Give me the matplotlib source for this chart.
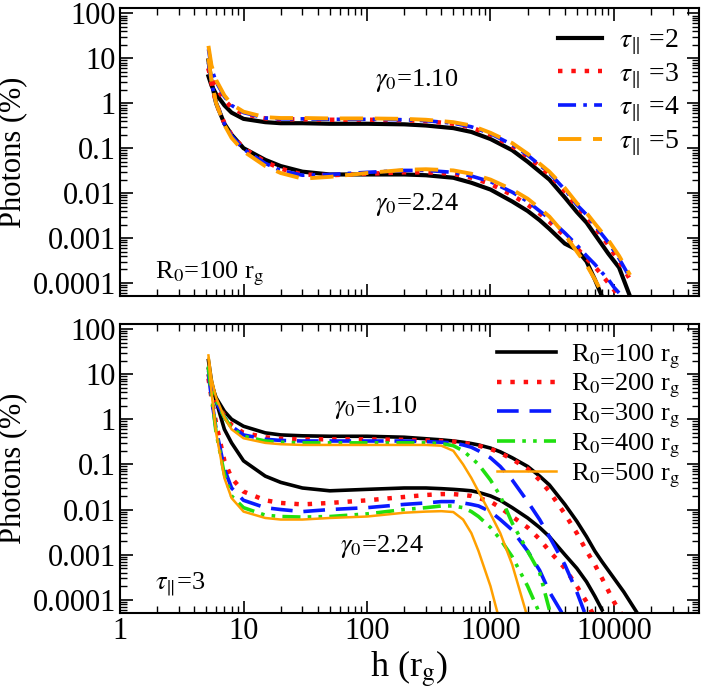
import matplotlib
matplotlib.use("Agg")
import matplotlib.pyplot as plt
from matplotlib.ticker import LogLocator, NullFormatter

plt.rcParams['font.family'] = ['Liberation Serif', 'DejaVu Serif']
plt.rcParams['mathtext.fontset'] = 'stix'

# ---------------- data ----------------
h_top_a = [5.2, 5.5, 6, 7, 8, 10, 15, 20, 30, 50, 100, 200, 300, 500, 700, 1000, 1500, 2000, 3000, 4000, 5000, 6000, 7000, 9000, 11000, 13500]
top_g110 = {
    2: [4.0, 2.5, 1.6, 0.9, 0.62, 0.45, 0.38, 0.36, 0.36, 0.35, 0.35, 0.34, 0.32, 0.28, 0.23, 0.16, 0.09, 0.05, 0.02, 0.008, 0.0038, 0.0022, 0.0012, 0.00045, 0.00022, 0.00005],
    3: [6.0, 3.5, 2.2, 1.2, 0.8, 0.58, 0.46, 0.44, 0.44, 0.43, 0.43, 0.42, 0.40, 0.35, 0.29, 0.20, 0.11, 0.065, 0.026, 0.011, 0.005, 0.003, 0.0017, 0.0007, 0.0003, 0.00012],
    4: [16.0, 6.0, 3.0, 1.4, 0.9, 0.62, 0.47, 0.45, 0.45, 0.44, 0.44, 0.43, 0.41, 0.36, 0.30, 0.21, 0.12, 0.07, 0.028, 0.012, 0.0055, 0.0033, 0.0019, 0.0008, 0.00035, 0.00013],
    5: [19.0, 7.0, 3.3, 1.5, 0.95, 0.65, 0.49, 0.47, 0.47, 0.46, 0.46, 0.45, 0.43, 0.38, 0.32, 0.22, 0.13, 0.075, 0.03, 0.013, 0.006, 0.0036, 0.0021, 0.0009, 0.0004, 0.00015],
}
h_top_b = [5.2, 5.5, 6, 7, 8, 10, 15, 20, 30, 50, 100, 200, 300, 500, 700, 1000, 1500, 2000, 2500, 3000, 4000, 5000, 6000, 7000, 8000, 9000, 10000, 11000]
top_g224 = {
    2: [9.0, 3.0, 1.0, 0.35, 0.2, 0.1, 0.055, 0.04, 0.03, 0.026, 0.026, 0.026, 0.025, 0.022, 0.017, 0.012, 0.0065, 0.004, 0.0025, 0.0016, 0.00075, 0.00055, 0.0003, 0.00012, 0.00005, 0.00003, 0.00002, 0.00001],
    3: [6.0, 2.8, 1.0, 0.36, 0.2, 0.1, 0.05, 0.035, 0.026, 0.025, 0.027, 0.029, 0.029, 0.027, 0.022, 0.016, 0.009, 0.0055, 0.0035, 0.0023, 0.0011, 0.0006, 0.00035, 0.00023, 0.00015, 0.0001, 0.00007, 0.00005],
    4: [8.0, 3.0, 1.0, 0.35, 0.19, 0.095, 0.046, 0.032, 0.025, 0.026, 0.029, 0.032, 0.032, 0.029, 0.024, 0.018, 0.0105, 0.0065, 0.004, 0.0027, 0.0013, 0.0007, 0.0004, 0.00026, 0.00017, 0.00012, 0.00008, 0.00006],
    5: [10.0, 3.2, 1.0, 0.33, 0.17, 0.085, 0.04, 0.028, 0.021, 0.023, 0.028, 0.033, 0.034, 0.032, 0.027, 0.02, 0.012, 0.0075, 0.0046, 0.003, 0.0012, 0.0005, 0.00025, 0.00012, 0.00006, 0.00003, 0.00002, 0.00001],
}
top_tau_labels = [r'$\tau_{\|}$ =2', r'$\tau_{\|}$ =3', r'$\tau_{\|}$ =4', r'$\tau_{\|}$ =5']

h_bot = [5.2, 5.5, 6, 7, 8, 10, 15, 20, 30, 50, 100, 200, 300, 400, 500, 600, 700, 800, 1000, 1200, 1500, 2000, 2500, 3000, 4000, 5000, 6000, 7000, 8000, 10000, 12000, 15500]
bot_g110 = {
    100: [13.0, 6.0, 3.0, 1.5, 1.0, 0.7, 0.5, 0.45, 0.43, 0.42, 0.42, 0.40, 0.37, 0.35, 0.33, 0.31, 0.29, 0.27, 0.23, 0.19, 0.14, 0.09, 0.055, 0.035, 0.013, 0.0055, 0.0025, 0.0012, 0.0007, 0.0003, 0.00015, 0.00005],
    200: [10.0, 5.0, 2.5, 1.2, 0.75, 0.5, 0.4, 0.37, 0.36, 0.36, 0.36, 0.35, 0.34, 0.33, 0.32, 0.30, 0.28, 0.26, 0.22, 0.18, 0.13, 0.08, 0.045, 0.025, 0.008, 0.003, 0.0012, 0.0006, 0.0003, 0.00009, 0.00004, 0.00001],
    300: [12.0, 5.0, 2.4, 1.1, 0.7, 0.45, 0.36, 0.34, 0.33, 0.33, 0.33, 0.33, 0.32, 0.31, 0.30, 0.27, 0.24, 0.2, 0.14, 0.09, 0.045, 0.015, 0.006, 0.0025, 0.0006, 0.00015, 0.00004, 0.00001, None, None, None, None],
    400: [15.0, 6.0, 2.6, 1.1, 0.65, 0.42, 0.33, 0.31, 0.30, 0.30, 0.30, 0.30, 0.30, 0.29, 0.26, 0.2, 0.14, 0.1, 0.045, 0.02, 0.005, 0.0012, 0.0004, 0.00006, None, None, None, None, None, None, None, None],
    500: [26.0, 8.0, 3.0, 1.1, 0.6, 0.38, 0.30, 0.28, 0.27, 0.27, 0.27, 0.27, 0.27, 0.26, 0.2, 0.1, 0.05, 0.025, 0.008, 0.003, 0.0006, 0.00004, None, None, None, None, None, None, None, None, None, None],
}
bot_g224 = {
    100: [20.0, 7.0, 2.5, 0.6, 0.3, 0.12, 0.055, 0.04, 0.03, 0.026, 0.028, 0.03, 0.03, 0.029, 0.028, 0.027, 0.026, 0.024, 0.02, 0.016, 0.011, 0.0065, 0.004, 0.0025, 0.001, 0.0005, 0.00025, 0.00012, 0.00006, None, None, None],
    200: [8.0, 3.0, 0.8, 0.12, 0.05, 0.025, 0.016, 0.014, 0.013, 0.014, 0.016, 0.019, 0.021, 0.022, 0.022, 0.021, 0.02, 0.018, 0.015, 0.011, 0.007, 0.004, 0.0022, 0.0012, 0.0005, 0.0002, 0.00009, 0.00004, None, None, None, None],
    300: [10.0, 3.0, 0.6, 0.08, 0.03, 0.016, 0.011, 0.01, 0.009, 0.01, 0.011, 0.013, 0.014, 0.015, 0.015, 0.014, 0.013, 0.012, 0.009, 0.006, 0.0035, 0.0012, 0.00045, 0.00015, 0.00004, None, None, None, None, None, None, None],
    400: [14.0, 3.5, 0.5, 0.06, 0.02, 0.011, 0.0075, 0.007, 0.0068, 0.007, 0.008, 0.01, 0.011, 0.012, 0.012, 0.011, 0.009, 0.007, 0.004, 0.0022, 0.0009, 0.0002, 0.00005, None, None, None, None, None, None, None, None, None],
    500: [22.0, 4.0, 0.5, 0.05, 0.018, 0.009, 0.0065, 0.006, 0.006, 0.0065, 0.007, 0.0085, 0.009, 0.0092, 0.0088, 0.006, 0.003, 0.0012, 0.0002, 0.00003, None, None, None, None, None, None, None, None, None, None, None, None],
}
bot_labels = [r'R$_0$=100 r$_\mathrm{g}$', r'R$_0$=200 r$_\mathrm{g}$', r'R$_0$=300 r$_\mathrm{g}$',
              r'R$_0$=400 r$_\mathrm{g}$', r'R$_0$=500 r$_\mathrm{g}$']

top_styles = [dict(color='black', ls='-', lw=3.0),
              dict(color='#ff1010', ls=(0, (1, 2)), lw=3.2),
              dict(color='#0a1aff', ls=(0, (5, 2, 1, 2)), lw=2.6),
              dict(color='#ffa000', ls=(0, (6, 3)), lw=2.8)]
bot_styles = [dict(color='black', ls='-', lw=2.6),
              dict(color='#ff1010', ls=(0, (1, 2)), lw=3.2),
              dict(color='#0a1aff', ls=(0, (6, 3)), lw=2.6),
              dict(color='#20e010', ls=(0, (5, 2, 1, 2, 1, 2)), lw=2.6),
              dict(color='#ffa000', ls='-', lw=1.8)]

def clean(h, v):
    pts = [(a, b) for a, b in zip(h, v) if b is not None]
    return [p[0] for p in pts], [p[1] for p in pts]

fig = plt.figure(figsize=(7.02, 6.95), dpi=100)
ax1 = fig.add_axes([0.171, 0.574, 0.825, 0.414])
ax2 = fig.add_axes([0.171, 0.118, 0.825, 0.416])

for i, tau in enumerate([2, 3, 4, 5]):
    x, y = clean(h_top_a, top_g110[tau])
    ax1.plot(x, y, label=top_tau_labels[i], **top_styles[i])
    x, y = clean(h_top_b, top_g224[tau])
    ax1.plot(x, y, **top_styles[i])

for i, R in enumerate([100, 200, 300, 400, 500]):
    x, y = clean(h_bot, bot_g110[R])
    ax2.plot(x, y, label=bot_labels[i], **bot_styles[i])
    x, y = clean(h_bot, bot_g224[R])
    ax2.plot(x, y, **bot_styles[i])

yt = [1e-4, 1e-3, 1e-2, 1e-1, 1, 10, 100]
ytl = ['0.0001', '0.001', '0.01', '0.1', '1', '10', '100']
for ax in (ax1, ax2):
    ax.set_xscale('log'); ax.set_yscale('log')
    ax.set_xlim(1, 49000); ax.set_ylim(5.1e-5, 130)
    ax.set_yticks(yt); ax.set_yticklabels(ytl, fontsize=22)
    ax.yaxis.set_minor_locator(LogLocator(base=10, subs=range(2, 10), numticks=20))
    ax.xaxis.set_minor_locator(LogLocator(base=10, subs=range(2, 10), numticks=20))
    ax.yaxis.set_minor_formatter(NullFormatter())
    ax.tick_params(which='both', direction='in', top=True, right=True)
    ax.tick_params(which='major', length=9, width=1.2, pad=3)
    ax.tick_params(which='minor', length=5, width=1.0)
    ax.set_ylabel('Photons (%)', fontsize=22)
    for s in ax.spines.values():
        s.set_linewidth(1.5)

ax1.set_xticks([1, 10, 100, 1000, 10000]); ax1.set_xticklabels([])
ax2.set_xticks([1, 10, 100, 1000, 10000])
ax2.set_xticklabels(['1', '10', '100', '1000', '10000'], fontsize=22)
ax1.xaxis.set_minor_formatter(NullFormatter()); ax2.xaxis.set_minor_formatter(NullFormatter())
ax2.set_xlabel(r'h (r$_\mathrm{g}$)', fontsize=26, labelpad=2)

ax1.legend(loc='upper right', frameon=False, fontsize=20, handlelength=1.6,
           borderaxespad=0.3, labelspacing=0.15, handletextpad=0.6)
ax2.legend(loc='upper right', frameon=False, fontsize=19, handlelength=2.2,
           borderaxespad=0.3, labelspacing=0.05, handletextpad=0.6)

ax1.text(0.44, 0.73, r'$\gamma_0$=1.10', transform=ax1.transAxes, fontsize=19)
ax1.text(0.44, 0.30, r'$\gamma_0$=2.24', transform=ax1.transAxes, fontsize=19)
ax1.text(0.06, 0.06, r'R$_0$=100 r$_\mathrm{g}$', transform=ax1.transAxes, fontsize=19)
ax2.text(0.37, 0.69, r'$\gamma_0$=1.10', transform=ax2.transAxes, fontsize=19)
ax2.text(0.38, 0.21, r'$\gamma_0$=2.24', transform=ax2.transAxes, fontsize=19)
ax2.text(0.06, 0.08, r'$\tau_{\|}$=3', transform=ax2.transAxes, fontsize=19)

fig.savefig('out.png', dpi=100)
